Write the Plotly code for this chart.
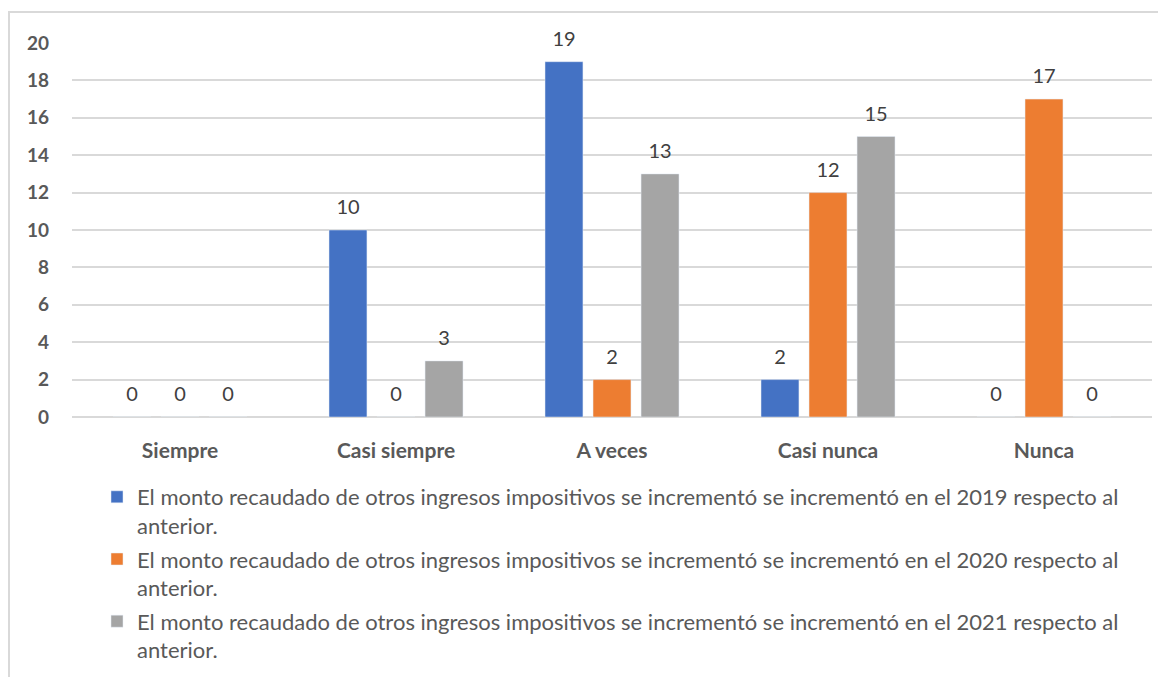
import plotly.graph_objects as go

categories = ["Siempre", "Casi siempre", "A veces", "Casi nunca", "Nunca"]
series_names = [
    "El monto recaudado de otros ingresos impositivos se incrementó se incrementó en el 2019 respecto al<br>anterior.",
    "El monto recaudado de otros ingresos impositivos se incrementó se incrementó en el 2020 respecto al<br>anterior.",
    "El monto recaudado de otros ingresos impositivos se incrementó se incrementó en el 2021 respecto al<br>anterior.",
]
values_2019 = [0, 10, 19, 2, 0]
values_2020 = [0, 0, 2, 12, 17]
values_2021 = [0, 3, 13, 15, 0]
colors = ["#4472C4", "#ED7D31", "#A5A5A5"]
y_ticks = [0, 2, 4, 6, 8, 10, 12, 14, 16, 18, 20]

FONT = "Lato"
GAP = 0.333
fig = go.Figure()
all_vals = [values_2019, values_2020, values_2021]
for i, (name, vals) in enumerate(zip(series_names, all_vals)):
    fig.add_trace(go.Bar(
        x=categories, y=vals, name=name, marker_color=colors[i],
        offsetgroup=f"s{i}", legendgroup=f"g{i}", hoverinfo="x+y",
    ))
# data labels: invisible markers at each bar top, grouped like the bars
for i, vals in enumerate(all_vals):
    fig.add_trace(go.Scatter(
        x=categories, y=vals, mode="markers+text",
        text=[str(v) for v in vals], textposition="top center",
        textfont=dict(family=FONT, size=20, color="#404040"),
        marker=dict(size=16, opacity=0),
        offsetgroup=f"s{i}", showlegend=False, hoverinfo="skip", cliponaxis=False,
    ))

# page has an 8px body margin, so the figure is drawn 8px in from the screen edge
W, H = 1158, 669
L, R, T, B = 64, 14, 35, 260
pw, ph = W - L - R, H - T - B

def px_x(p):
    return (p - L) / pw

def px_y(p):
    return (H - B - p) / ph

fig.update_layout(
    width=W, height=H,
    margin=dict(l=L, r=R, t=T, b=B, autoexpand=False),
    paper_bgcolor="white", plot_bgcolor="white",
    barmode="group", bargap=GAP, bargroupgap=0.21,
    scattermode="group", scattergap=GAP,
    font=dict(family=FONT, color="#595959"),
    showlegend=True,
    legend=dict(
        orientation="v", xref="container", yref="container",
        x=89 / W, y=1 - 468 / H, xanchor="left", yanchor="top",
        font=dict(family=FONT, size=22, color="#595959"),
        tracegroupgap=2, itemwidth=30, valign="top",
    ),
    xaxis=dict(
        tickfont=dict(family=FONT, size=21, color="#595959", weight="bold"),
        showgrid=False, showline=False, ticks="", ticklabelstandoff=19,
        automargin=False,
    ),
    yaxis=dict(
        range=[0, 20], tickvals=y_ticks,
        tickfont=dict(family=FONT, size=19, color="#595959", weight="bold"),
        showgrid=True, gridcolor="#D9D9D9", gridwidth=1.5,
        zeroline=True, zerolinecolor="#D9D9D9", zerolinewidth=1.5,
        showline=False, ticks="", ticklabelstandoff=22, automargin=False,
    ),
    shapes=[dict(type="rect", xref="paper", yref="paper",
                 x0=px_x(1), x1=px_x(1200), y0=px_y(700), y1=px_y(4),
                 line=dict(color="#D9D9D9", width=2), fillcolor="rgba(0,0,0,0)", layer="below")],
)

fig.write_html("out.html")
